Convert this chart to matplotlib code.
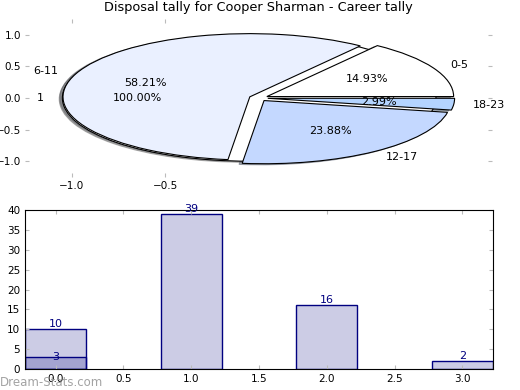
import numpy as np
import matplotlib
matplotlib.use("Agg")
import matplotlib.pyplot as plt

# disposal ranges and counts
ranges = ["0-5", "6-11", "12-17", "18-23"]
tally = [10, 39, 16, 2]
pie_colors = ["#ffffff", "#eaf0ff", "#c4d8ff", "#b4d4ff"]

# second series (single range "1")
other_labels = ["1"]
other_tally = [3]

bar_x = [0, 1, 2, 3]
bar_x2 = [0]

fig = plt.figure(figsize=(5.2, 3.9), dpi=100)

shad = dict(ox=-0.012, oy=-0.012, shade=0.6)

ax1 = fig.add_axes([25/520, 1-177/390, 467/520, 158/390])
ax1.pie(other_tally, labels=other_labels, colors=["#ffffff"], explode=[0.05],
        autopct="%1.2f%%", shadow=shad, startangle=0,
        wedgeprops=dict(edgecolor="black", linewidth=0.8),
        textprops=dict(fontsize=8))
ax1.pie(tally, labels=ranges, colors=pie_colors, explode=[0.05]*4,
        autopct="%1.2f%%", shadow=shad, startangle=0,
        wedgeprops=dict(edgecolor="black", linewidth=0.8),
        textprops=dict(fontsize=8))
ax1.set_aspect("auto")
ax1.set_xlim(-1.25, 1.25)
ax1.set_ylim(-1.25, 1.25)
ax1.set_xticks([-1.0, -0.5])
ax1.set_yticks([1.0, 0.5, 0.0, -0.5, -1.0])
ax1.tick_params(direction="in", length=3, color="#bbbbbb", labelsize=7.5,
                top=True, right=True, pad=3)
ax1.set_title("Disposal tally for Cooper Sharman - Career tally", fontsize=9.3)

ax2 = fig.add_axes([25/520, 1-369/390, 468/520, 159/390])
b1 = ax2.bar(bar_x, tally, width=0.45, facecolor=(0, 0, 0.5, 0.2),
             edgecolor="navy", linewidth=1)
b2 = ax2.bar(bar_x2, other_tally, width=0.45, facecolor=(0, 0, 0.5, 0.2),
             edgecolor="navy", linewidth=1)
for r in b1:
    ax2.text(r.get_x() + r.get_width()/2, r.get_height(), "%d" % r.get_height(),
             ha="center", va="bottom", color="navy", fontsize=8)
for r in b2:
    ax2.text(r.get_x() + r.get_width()/2, r.get_height(), "%d" % r.get_height(),
             ha="center", va="center", color="navy", fontsize=8)
ax2.set_xlim(-0.225, 3.225)
ax2.set_ylim(0, 40)
ax2.set_xticks([0.0, 0.5, 1.0, 1.5, 2.0, 2.5, 3.0])
ax2.set_yticks(range(0, 41, 5))
ax2.tick_params(direction="in", length=3, color="#bbbbbb", labelsize=7.5,
                top=True, right=True)

fig.text(0.0, 0.01, "Dream-Stats.com", color="#999999", fontsize=8.5, alpha=0.9)

plt.savefig("out.png", dpi=100)
